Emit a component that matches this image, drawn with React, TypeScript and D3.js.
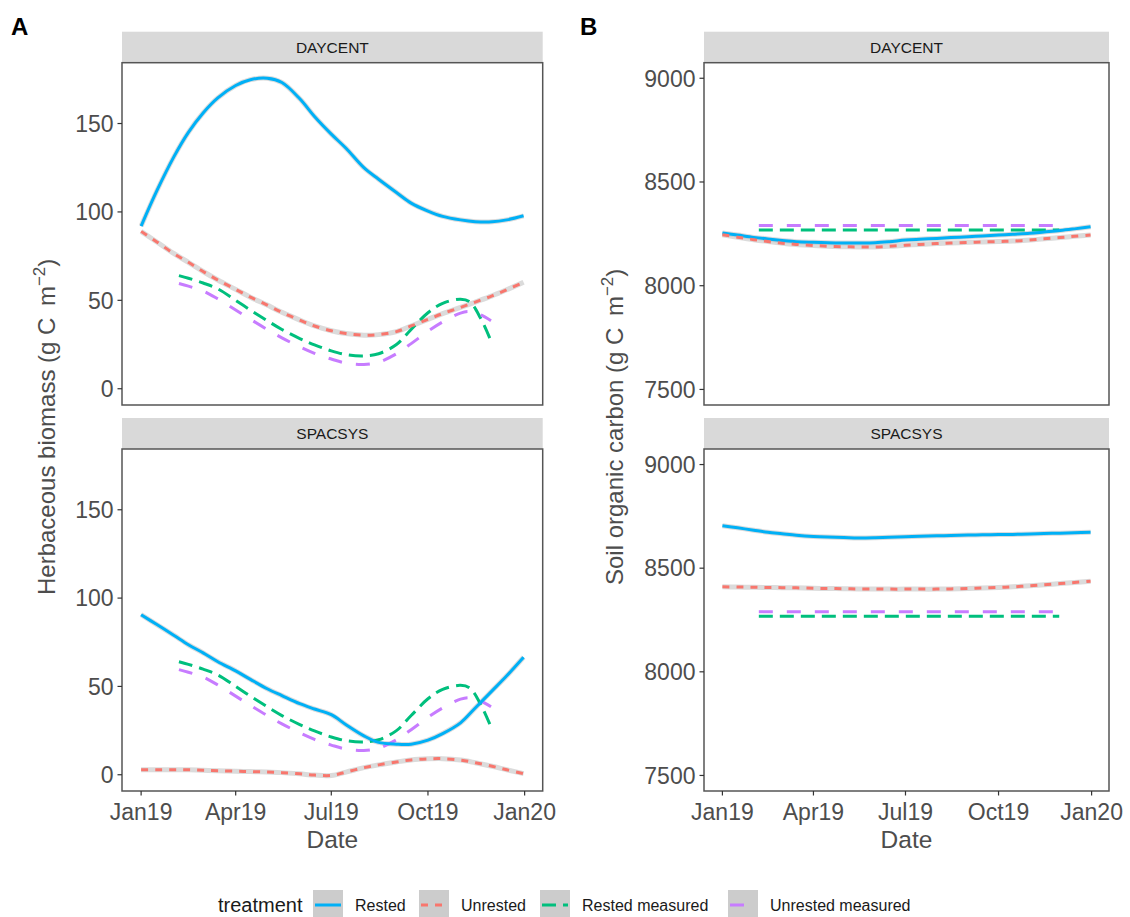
import React from "react";
import * as d3 from "d3";

// ---- data ----
const modelDates = [
  "2019-01-01", "2019-01-16", "2019-02-01", "2019-02-15", "2019-03-01",
  "2019-03-15", "2019-04-01", "2019-04-15", "2019-05-01", "2019-05-15",
  "2019-06-01", "2019-06-15", "2019-07-01", "2019-07-15", "2019-08-01",
  "2019-08-15", "2019-09-01", "2019-09-15", "2019-10-01", "2019-10-15",
  "2019-11-01", "2019-11-15", "2019-12-01", "2019-12-15", "2019-12-31",
];

const measuredDates = [
  "2019-02-06", "2019-02-15", "2019-03-01", "2019-03-15", "2019-04-01",
  "2019-04-15", "2019-05-01", "2019-05-15", "2019-06-01", "2019-06-15",
  "2019-07-01", "2019-07-15", "2019-08-01", "2019-08-15", "2019-09-01",
  "2019-09-15", "2019-10-01", "2019-10-15", "2019-11-01", "2019-11-10",
  "2019-11-20", "2019-11-30",
];

// herbaceous biomass (g C m-2)
const bioDaycentRested = [92, 112, 131, 145, 156, 164.5, 171.5, 174.8, 175.6, 173.2, 164, 154, 144, 136, 125, 118.5, 111, 105, 100.5, 97.5, 95.5, 94.5, 94.4, 95.5, 97.8];
const bioDaycentUnrested = [89, 83, 76.5, 71.5, 66.3, 61.5, 56.2, 51.8, 47.3, 43.2, 38.8, 35.5, 32.8, 31.2, 30.3, 30.6, 32.3, 35.5, 39.2, 42.5, 46, 49, 52.5, 56, 60.2];
const bioSpacsysRested = [90.6, 85, 79, 73.6, 69, 64, 58.8, 54, 48.7, 44.8, 40.2, 37.2, 34, 28.3, 22, 18.3, 17.3, 17.3, 19.6, 23.3, 29.4, 37.8, 47.5, 56, 66.5];
const bioSpacsysUnrested = [2.8, 2.8, 2.8, 2.8, 2.5, 2.3, 2.0, 1.8, 1.5, 1.2, 0.5, -0.2, -0.4, 1.5, 4, 5.6, 7.2, 8.4, 9, 9.1, 8.3, 6.8, 4.8, 2.8, 0.6];
const bioRestedMeasured = [64, 62.5, 59.8, 56.5, 50, 44.5, 38.5, 33.5, 28.4, 24.8, 21.4, 19.3, 18.6, 19.8, 25, 33.5, 43, 48.3, 50.6, 49, 40, 27];
const bioUnrestedMeasured = [59.5, 58, 55.3, 50.8, 44.5, 39.3, 33.5, 28.8, 23.7, 20, 16.8, 14.5, 13.7, 15, 19.8, 25.5, 32.5, 37.8, 42.8, 43.6, 41.8, 38.5];

// soil organic carbon (g C m-2)
const socDaycentRested = [8254, 8244, 8233, 8225, 8218, 8212, 8209, 8207, 8206, 8206, 8207, 8212, 8220, 8224, 8228, 8232, 8236, 8240, 8244, 8248, 8253, 8259, 8266, 8274, 8284];
const socDaycentUnrested = [8246, 8234, 8222, 8213, 8205, 8199, 8194, 8190, 8188, 8187, 8187, 8190, 8195, 8199, 8203, 8206, 8209, 8211, 8213, 8215, 8220, 8226, 8232, 8238, 8244];
const socSpacsysRested = [8705, 8695, 8683, 8673, 8666, 8659, 8653, 8650, 8648, 8646, 8647, 8649, 8652, 8654, 8656, 8658, 8660, 8661, 8662, 8663, 8665, 8667, 8669, 8671, 8673];
const socSpacsysUnrested = [8410, 8409, 8408, 8407, 8406, 8405, 8403, 8402, 8401, 8400, 8400, 8399, 8399, 8399, 8399, 8400, 8402, 8404, 8407, 8410, 8415, 8420, 8426, 8431, 8437];
const socMeasuredDates = ["2019-02-06", "2019-11-30"];
const socRestedMeasured = [8268, 8268];
const socUnrestedMeasured = [8290, 8290];

const models = ["DAYCENT", "SPACSYS"];
const treatments = ["Rested", "Unrested", "Rested measured", "Unrested measured"];
const bioTicks = [0, 50, 100, 150];
const socTicks = [7500, 8000, 8500, 9000];
const socLimits = [7500, 9000];
const xTickDates = ["2019-01-01", "2019-04-01", "2019-07-01", "2019-10-01", "2020-01-01"];

// ---- styling ----
const colors: Record<string, string> = {
  Rested: "#00B0F6",
  Unrested: "#F8766D",
  "Rested measured": "#00BF7D",
  "Unrested measured": "#C77CFF",
};
const dashes: Record<string, string | undefined> = {
  Rested: undefined,
  Unrested: "7 7",
  "Rested measured": "14 7",
  "Unrested measured": "14 14",
};
const FONT = "'Liberation Sans', Arial, Helvetica, sans-serif";
const GREY = "#4D4D4D";

const parse = d3.utcParse("%Y-%m-%d");
const fmt = d3.utcFormat("%b%y");

type Series = { key: string; dates: Date[]; values: number[]; se: boolean };

const mk = (key: string, dates: string[], values: number[], se: boolean): Series => ({
  key,
  dates: dates.map((d) => parse(d) as Date),
  values,
  se,
});

const bioSeries: Record<string, Series[]> = {
  DAYCENT: [
    mk("Rested measured", measuredDates, bioRestedMeasured, false),
    mk("Unrested measured", measuredDates, bioUnrestedMeasured, false),
    mk("Rested", modelDates, bioDaycentRested, true),
    mk("Unrested", modelDates, bioDaycentUnrested, true),
  ],
  SPACSYS: [
    mk("Rested measured", measuredDates, bioRestedMeasured, false),
    mk("Unrested measured", measuredDates, bioUnrestedMeasured, false),
    mk("Rested", modelDates, bioSpacsysRested, true),
    mk("Unrested", modelDates, bioSpacsysUnrested, true),
  ],
};
const socSeries: Record<string, Series[]> = {
  DAYCENT: [
    mk("Rested measured", socMeasuredDates, socRestedMeasured, false),
    mk("Unrested measured", socMeasuredDates, socUnrestedMeasured, false),
    mk("Rested", modelDates, socDaycentRested, true),
    mk("Unrested", modelDates, socDaycentUnrested, true),
  ],
  SPACSYS: [
    mk("Rested measured", socMeasuredDates, socRestedMeasured, false),
    mk("Unrested measured", socMeasuredDates, socUnrestedMeasured, false),
    mk("Rested", modelDates, socSpacsysRested, true),
    mk("Unrested", modelDates, socSpacsysUnrested, true),
  ],
};

// ggplot-like 5% expansion
const expand = (lo: number, hi: number) => {
  const pad = (hi - lo) * 0.05;
  return [lo - pad, hi + pad];
};

const dateExtent = d3.extent(modelDates.map((d) => +(parse(d) as Date))) as [number, number];
const xDomain = expand(dateExtent[0], dateExtent[1]).map((t) => new Date(t));

const allBio = models.flatMap((m) => bioSeries[m].flatMap((s) => s.values));
const bioDomain = expand(d3.min(allBio) as number, d3.max(allBio) as number);
const socDomain = expand(socLimits[0], socLimits[1]);

const rows = [
  { stripTop: 31.7, top: 62.7, bottom: 405 },
  { stripTop: 418, top: 449, bottom: 791 },
];

function Facet({
  left, right, row, label, series, yDomain, yTicks, showX,
}: {
  left: number; right: number; row: { stripTop: number; top: number; bottom: number };
  label: string; series: Series[]; yDomain: number[]; yTicks: number[]; showX: boolean;
}) {
  const x = d3.scaleUtc().domain(xDomain).range([left, right]);
  const y = d3.scaleLinear().domain(yDomain).range([row.bottom, row.top]);
  const line = (s: Series) =>
    d3.line<number>()
      .x((_, i) => x(s.dates[i]))
      .y((v) => y(v))
      .curve(d3.curveCatmullRom.alpha(0.5))(s.values) as string;
  const xt = xTickDates.map((d) => parse(d) as Date);
  const clipId = `clip-${Math.round(left)}-${Math.round(row.top)}`;
  return (
    <g>
      <rect x={left} y={row.stripTop} width={right - left} height={row.top - row.stripTop} fill="#D9D9D9" />
      <text x={(left + right) / 2} y={(row.stripTop + row.top) / 2} dy="0.36em" textAnchor="middle"
        fontSize={15.5} fill="#1A1A1A" fontFamily={FONT}>{label}</text>
      <rect x={left} y={row.top} width={right - left} height={row.bottom - row.top} fill="#FFFFFF" />
      <defs>
        <clipPath id={clipId}>
          <rect x={left} y={row.top} width={right - left} height={row.bottom - row.top} />
        </clipPath>
      </defs>
      <g clipPath={`url(#${clipId})`}>
        {series.filter((s) => s.se).map((s) => (
          <path key={"se" + s.key} d={line(s)} fill="none" stroke="#BEBEBE" strokeOpacity={0.55} strokeWidth={5} />
        ))}
        {series.map((s) => (
          <path key={s.key} d={line(s)} fill="none" stroke={colors[s.key]} strokeWidth={3}
            strokeDasharray={dashes[s.key]} />
        ))}
      </g>
      <rect x={left} y={row.top} width={right - left} height={row.bottom - row.top} fill="none"
        stroke="#555555" strokeWidth={1.5} />
      {yTicks.map((t) => (
        <g key={t}>
          <line x1={left - 4.5} x2={left} y1={y(t)} y2={y(t)} stroke="#333333" strokeWidth={1.2} />
          <text x={left - 8.5} y={y(t)} dy="0.36em" textAnchor="end" fontSize={23} fill={GREY} fontFamily={FONT}>{t}</text>
        </g>
      ))}
      {showX && xt.map((d, i) => (
        <g key={i}>
          <line x1={x(d)} x2={x(d)} y1={row.bottom} y2={row.bottom + 4.5} stroke="#333333" strokeWidth={1.2} />
          <text x={x(d)} y={row.bottom + 28.5} textAnchor="middle" fontSize={23} fill={GREY} fontFamily={FONT}>{fmt(d)}</text>
        </g>
      ))}
    </g>
  );
}

function YTitle({ x, text }: { x: number; text: string }) {
  const cy = (rows[0].top + rows[1].bottom) / 2;
  return (
    <text transform={`translate(${x},${cy}) rotate(-90)`} textAnchor="middle" fontSize={24} fill={GREY} fontFamily={FONT}>
      {text}
      <tspan>{"(g C\u2009 m"}</tspan>
      <tspan dy={-10} fontSize={17}>{"\u22122"}</tspan>
      <tspan dy={10}>)</tspan>
    </text>
  );
}

function Legend() {
  const y0 = 905;
  const keyX = [313, 419, 540, 728];
  return (
    <g fontFamily={FONT}>
      <text x={218} y={y0} dy="0.36em" fontSize={20} fill="#1A1A1A">treatment</text>
      {treatments.map((t, i) => (
        <g key={t}>
          <rect x={keyX[i]} y={y0 - 15} width={30} height={32} fill="#CCCCCC" />
          <line x1={keyX[i] + 2} x2={keyX[i] + 28} y1={y0} y2={y0} stroke={colors[t]} strokeWidth={3}
            strokeDasharray={dashes[t]} />
          <text x={keyX[i] + 42} y={y0} dy="0.36em" fontSize={16} fill="#1A1A1A">{t}</text>
        </g>
      ))}
    </g>
  );
}

export default function App() {
  const A = { left: 122, right: 542.7 };
  const B = { left: 704, right: 1109 };
  return (
    <svg width={1130} height={917} style={{ position: "absolute", left: 0, top: 0, background: "#fff" }}>
      <rect width={1130} height={917} fill="#FFFFFF" />
      <text x={11} y={35} fontSize={24} fontWeight="bold" fontFamily={FONT} fill="#000">A</text>
      <text x={580} y={35} fontSize={24} fontWeight="bold" fontFamily={FONT} fill="#000">B</text>
      {models.map((m, i) => (
        <Facet key={"a" + m} left={A.left} right={A.right} row={rows[i]} label={m}
          series={bioSeries[m]} yDomain={bioDomain} yTicks={bioTicks} showX={i === 1} />
      ))}
      {models.map((m, i) => (
        <Facet key={"b" + m} left={B.left} right={B.right} row={rows[i]} label={m}
          series={socSeries[m]} yDomain={socDomain} yTicks={socTicks} showX={i === 1} />
      ))}
      <text x={(A.left + A.right) / 2} y={848} textAnchor="middle" fontSize={24.5} fill={GREY} fontFamily={FONT}>Date</text>
      <text x={(B.left + B.right) / 2} y={848} textAnchor="middle" fontSize={24.5} fill={GREY} fontFamily={FONT}>Date</text>
      <YTitle x={55} text="Herbaceous biomass " />
      <YTitle x={623} text="Soil organic carbon " />
      <Legend />
    </svg>
  );
}
